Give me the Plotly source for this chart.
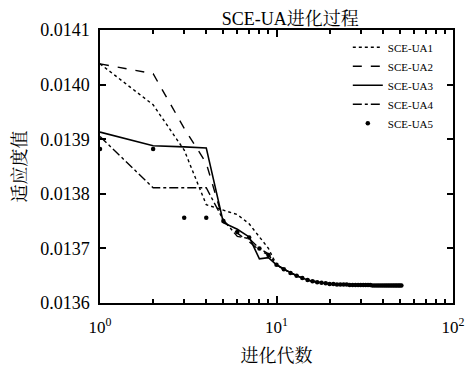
import plotly.graph_objects as go

gens = list(range(1, 52))

tail = [0.013670, 0.013662, 0.013655, 0.013650, 0.013646, 0.013642, 0.013640, 0.013638,
        0.013637, 0.013636, 0.013635, 0.013635, 0.013634, 0.013634, 0.013634, 0.013634,
        0.013633, 0.013633, 0.013633, 0.013633, 0.013633, 0.013633, 0.013633, 0.013633,
        0.013633, 0.013632, 0.013632, 0.013632, 0.013632, 0.013632, 0.013632, 0.013632,
        0.013632, 0.013632, 0.013632, 0.013632, 0.013632, 0.013632, 0.013632, 0.013632,
        0.013632, 0.013632]

sce1 = [0.014038, 0.013963, 0.013880, 0.013780, 0.013770, 0.013762, 0.013745, 0.013722, 0.013700] + tail
sce2 = [0.014038, 0.014020, 0.013920, 0.013856, 0.013750, 0.013728, 0.013712, 0.013697, 0.013688] + tail
sce3 = [0.013913, 0.013888, 0.013886, 0.013884, 0.013747, 0.013735, 0.013721, 0.013681, 0.013683] + tail
sce4 = [0.013905, 0.013811, 0.013811, 0.013811, 0.013752, 0.013722, 0.013718, 0.013700, 0.013690] + tail
sce5 = [0.013882, 0.013882, 0.013756, 0.013756, 0.013750, 0.013730, 0.013720, 0.013700, 0.013688] + tail

names = ["SCE-UA1", "SCE-UA2", "SCE-UA3", "SCE-UA4", "SCE-UA5"]

SERIF = "Liberation Serif, Noto Serif CJK SC, Noto Sans CJK SC, serif"

fig = go.Figure()
fig.add_trace(go.Scatter(x=gens, y=sce1, mode="lines", name=names[0],
                         line=dict(color="black", width=1.4, dash="dot")))
fig.add_trace(go.Scatter(x=gens, y=sce2, mode="lines", name=names[1],
                         line=dict(color="black", width=1.4, dash="dash")))
fig.add_trace(go.Scatter(x=gens, y=sce3, mode="lines", name=names[2],
                         line=dict(color="black", width=1.6)))
fig.add_trace(go.Scatter(x=gens, y=sce4, mode="lines", name=names[3],
                         line=dict(color="black", width=1.4, dash="dashdot")))
fig.add_trace(go.Scatter(x=gens, y=sce5, mode="markers", name=names[4],
                         marker=dict(color="black", size=4.5)))

minor_vals = [2, 3, 4, 5, 6, 7, 8, 9, 20, 30, 40, 50, 60, 70, 80, 90]

fig.update_layout(
    width=465, height=366,
    margin=dict(l=100, r=12, t=30, b=63),
    paper_bgcolor="white", plot_bgcolor="white",
    font=dict(family=SERIF, color="black", size=16),
    title=dict(text="SCE-UA进化过程", x=0.624, xanchor="center", y=0.948, yanchor="middle",
               font=dict(size=18, family=SERIF)),
    showlegend=True,
    legend=dict(x=0.702, y=0.99, xanchor="left", yanchor="top",
                bgcolor="rgba(0,0,0,0)", font=dict(size=11, family=SERIF),
                tracegroupgap=0, itemwidth=30),
)
fig.update_xaxes(
    type="log", range=[0, 2], automargin=False,
    tickvals=[1, 10, 100], ticktext=["10<sup>0</sup>", "10<sup>1</sup>", "10<sup>2</sup>"],
    ticks="inside", ticklen=7, tickwidth=1.5, tickcolor="black",
    minor=dict(tickvals=minor_vals, ticks="inside", ticklen=4, tickcolor="black", showgrid=False),
    showline=True, linecolor="black", linewidth=1.5, mirror="allticks",
    showgrid=False, zeroline=False, ticklabelstandoff=8,
    title=dict(text="进化代数", font=dict(size=18), standoff=13),
    tickfont=dict(size=17),
)
fig.update_yaxes(
    range=[0.0136, 0.0141], dtick=0.0001, tickformat=".4f", automargin=False,
    ticks="inside", ticklen=6, tickwidth=1.5, tickcolor="black",
    showline=True, linecolor="black", linewidth=1.5, mirror="allticks",
    showgrid=False, zeroline=False, ticklabelstandoff=5,
    title=dict(text="适应度值", font=dict(size=18), standoff=9),
    tickfont=dict(size=18),
)

fig.write_html("out.html", config={"displayModeBar": False},
               post_script="document.body.style.margin='0';")
